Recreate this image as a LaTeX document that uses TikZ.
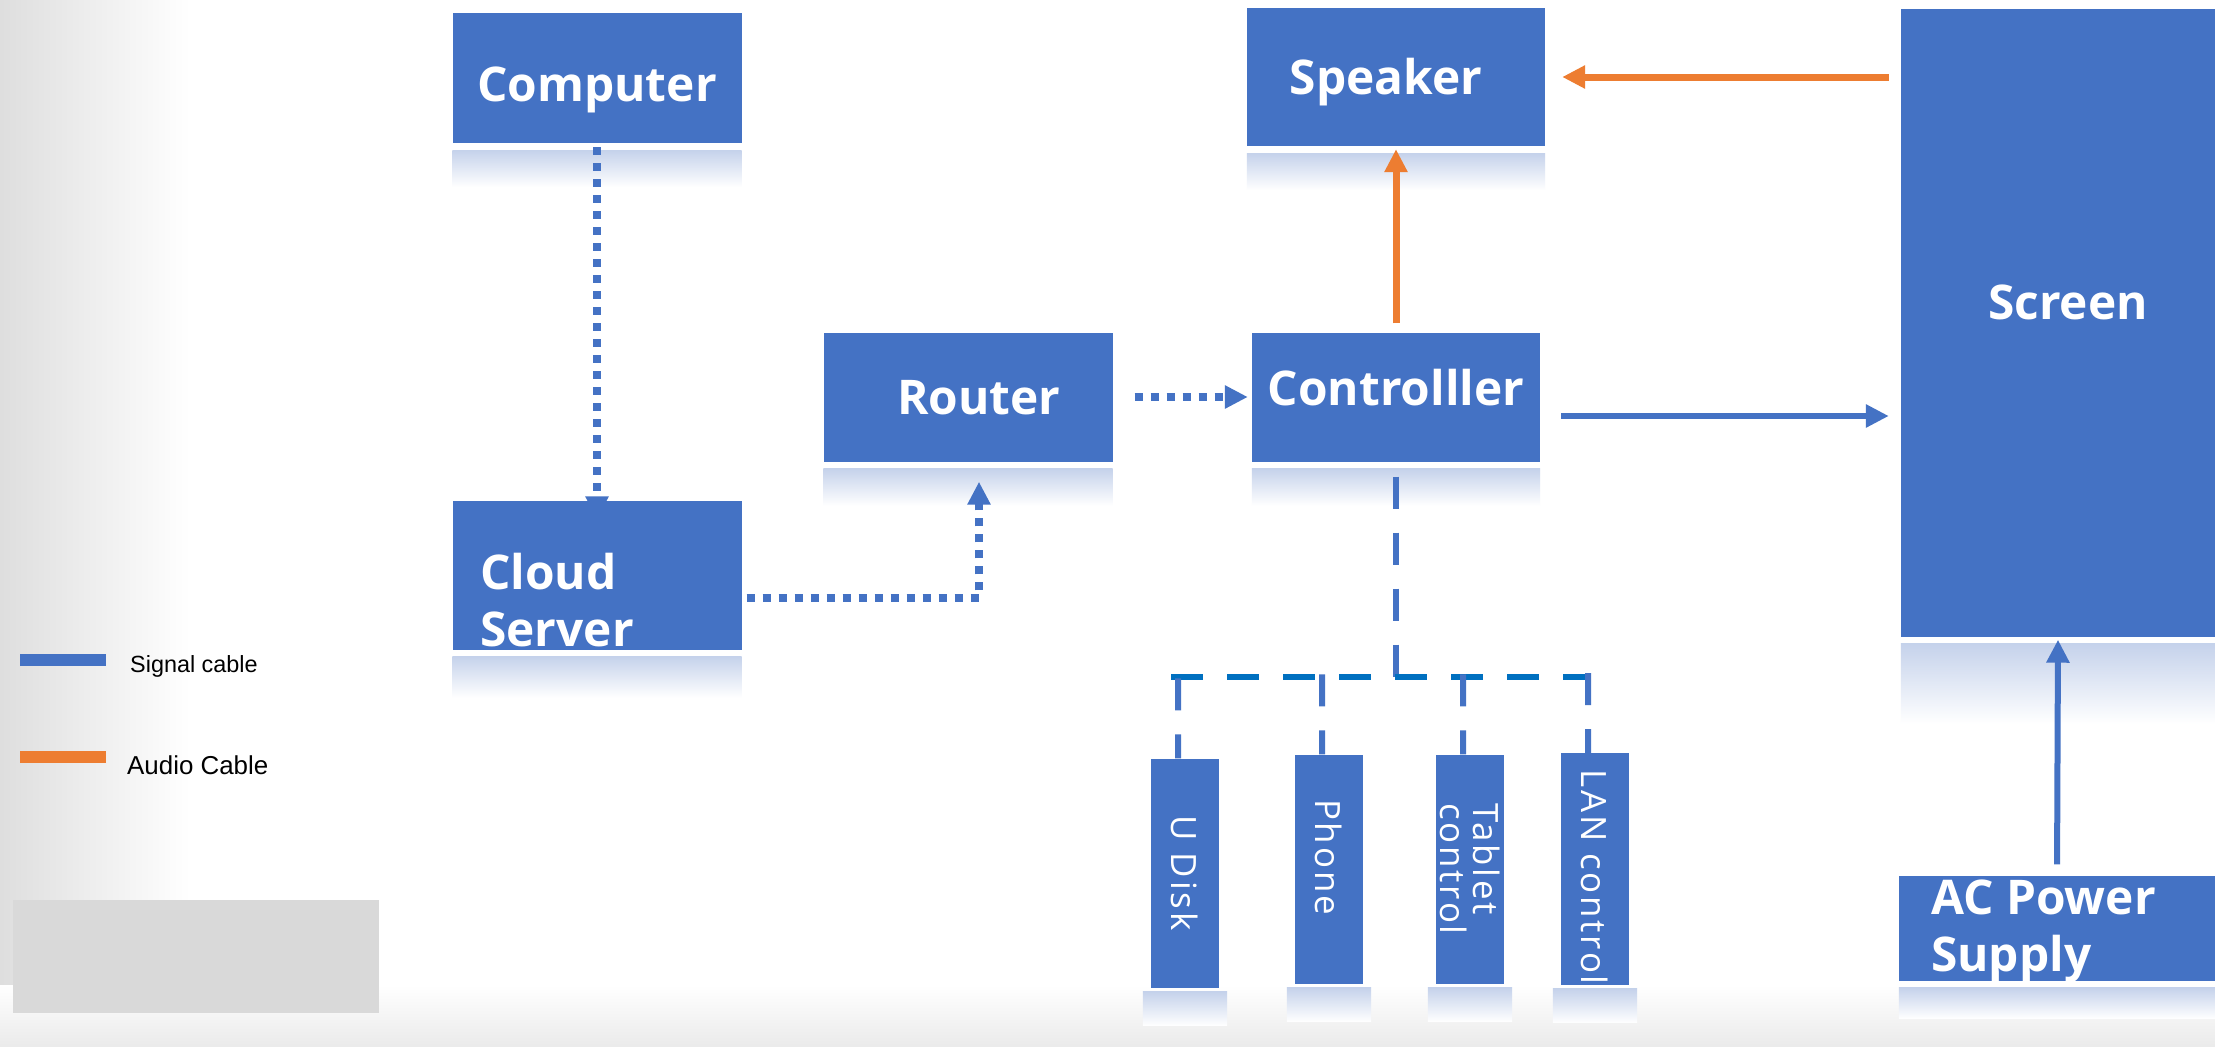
\documentclass[tikz,border=0pt]{standalone}
\usepackage{fontspec}
\setmainfont{Open Sans}
\newfontfamily\legendfont{Liberation Sans}
\newfontfamily\devfont[LetterSpace=8]{Open Sans}
\usetikzlibrary{arrows.meta, calc}
\definecolor{boxblue}{HTML}{4472C4}
\definecolor{audioorange}{HTML}{ED7D31}
\definecolor{busblue}{HTML}{0070C0}
\definecolor{reflblue}{HTML}{C5D2EB}
\definecolor{panelgray}{HTML}{D9D9D9}

\begin{document}
\begin{tikzpicture}[
    x=1bp, y=-1bp,
    box/.style={rectangle, fill=boxblue, text=white, inner sep=0pt,
      font=\bfseries\fontsize{48}{57}\selectfont, text height=34bp, text depth=0pt},
    boxtext/.style={text=white, inner sep=0pt, align=left,
      font=\bfseries\fontsize{48}{57}\selectfont},
    device/.style={rectangle, fill=boxblue, text=white, inner sep=0pt, rotate=-90,
      minimum width=229bp, minimum height=68bp, align=left,
      font=\devfont\fontsize{35}{34}\selectfont},
    refl/.style={top color=reflblue, bottom color=white},
    cabletip/.style={-{Triangle[length=23bp,width=22bp]}},
    signal/.style={draw=boxblue, line width=6bp, cabletip},
    audio/.style={draw=audioorange, line width=7bp, cabletip},
    dotcable/.style={draw=boxblue, line width=7.5bp, dash pattern=on 8bp off 8bp, cabletip},
    bus/.style={draw=boxblue, line width=6bp, dash pattern=on 32bp off 24bp},
    legend/.style={anchor=base west, inner sep=0pt}
  ]
  % Background
  \useasboundingbox (0,0) rectangle (2215,1046);
  \fill[white] (0,0) rectangle (2215,1046);
  \shade[left color=black!13, right color=white] (0,0) rectangle (190,1046);
  \shade[top color=white, bottom color=black!8] (0,985) rectangle (2215,1046);
  \fill[panelgray] (13,900) rectangle (379,1013);

  % Nodes
  \node[box, minimum width=289bp, minimum height=130bp, text height=46bp] (comp) at (597,78) {Computer};
  \node[box, minimum width=298bp, minimum height=138bp] (spk) at (1396,77) {Speaker\hspace*{20bp}};
  \node[box, minimum width=289bp, minimum height=129bp] (router) at (968,397) {\hspace*{22bp}Router};
  \node[box, minimum width=288bp, minimum height=129bp, text depth=18bp] (ctrl) at (1396,397) {Controlller};
  \node[box, minimum width=289bp, minimum height=149bp] (cloud) at (597,575) {};
  \node[box, minimum width=314bp, minimum height=627bp] (screen) at (2058,323) {};
  \node[box, minimum width=316bp, minimum height=105bp] (ac) at (2057,928) {};

  \node[boxtext, anchor=base west] (cloudlabel) at (480,646) {Cloud\\Server};
  \node[boxtext] (screenlabel) at (2068,302) {Screen};
  \node[boxtext, anchor=base west] (aclabel) at (1931,971) {AC Power\\Supply};

  \node[device] (udisk) at (1185,873) {U Disk};
  \node[device] (phone) at (1329,869) {Phone\hspace*{24bp}};
  \node[device] (tablet) at (1470,869) {Tablet\\control};
  \node[device] (lan) at (1595,869) {\hspace*{16bp}LAN control};

  % Reflections
  \foreach \n/\h in {comp/37, spk/37, router/37, ctrl/37, cloud/41, screen/80, ac/31}
    \shade[refl] ([yshift=-7bp]\n.south west) rectangle ([yshift={-(\h+7)*1bp}]\n.south east);
  \foreach \n in {udisk, phone, tablet, lan}
    \shade[refl] ([shift={(-8bp,-4bp)}]\n.south east) rectangle ([shift={(8bp,-38bp)}]\n.north east);

  % Cables
  \draw[dotcable, shorten <=4bp, shorten >=-19bp] (comp.south) -- (cloud.north);
  \draw[dotcable, shorten <=5bp, shorten >=20bp] ([yshift=-23bp]cloud.east) -| ([xshift=11bp]router.south);
  \draw[dotcable, shorten <=22bp, shorten >=4bp] (router.east) -- (ctrl.west);
  \draw[audio, shorten <=9bp, shorten >=3bp] (ctrl.north) -- (spk.south);
  \draw[audio, shorten <=12bp, shorten >=17bp] (screen.west |- spk.east) -- (spk.east);
  \draw[signal, shorten <=21bp, shorten >=12bp] ($(ctrl.east)+(0,19)$) -- ($(ctrl.east -| screen.west)+(0,19)$);
  \draw[signal, shorten <=11bp, shorten >=3bp] (ac.north) -- (screen.south);

  % Controller bus
  \coordinate (hub) at (1396,677);
  \coordinate (busL) at (1171,677);
  \coordinate (busR) at (1591,677);
  \draw[bus, shorten <=15bp] (ctrl.south) -- (ctrl.south |- hub);
  \draw[bus, draw=busblue, line width=6.5bp] (busL) -- (busR);
  \foreach \n in {udisk, phone, tablet, lan}
    \draw[bus] ($(\n.west)+(-7,-80)$) -- ([xshift=-7bp]\n.west);

  % Legend
  \fill[boxblue] (20,654) rectangle (106,666);
  \fill[audioorange] (20,751) rectangle (106,763);
  \node[legend, font=\legendfont\fontsize{23.5}{28}\selectfont] (sigtext) at (130,672) {Signal cable};
  \node[legend, font=\legendfont\fontsize{26}{30}\selectfont] (audtext) at (127,774) {Audio Cable};
\end{tikzpicture}
\end{document}
